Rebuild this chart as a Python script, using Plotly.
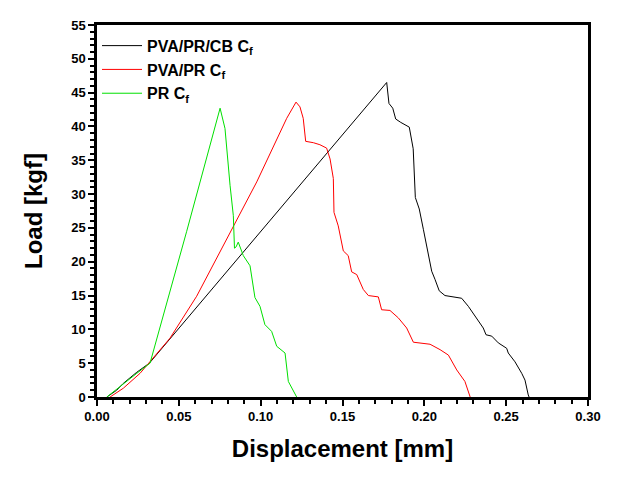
import plotly.graph_objects as go

# PVA/PR/CB Cf (black)
cb_x = [0.006, 0.012, 0.016, 0.024, 0.032, 0.177, 0.1784, 0.1807, 0.1825, 0.1856, 0.1908, 0.1932,
        0.1945, 0.1969, 0.1994, 0.2024, 0.2045, 0.2065, 0.2091, 0.2126, 0.2177, 0.2228, 0.2269,
        0.2320, 0.2360, 0.2377, 0.2412, 0.2452, 0.2503, 0.2513, 0.2554, 0.2595, 0.2615, 0.2635, 0.264]
cb_y = [0, 1.0, 2.0, 3.6, 5.0, 46.5, 43.4, 42.7, 41.1, 40.6, 39.9, 36.7,
        29.5, 27.8, 24.8, 21.4, 18.6, 17.4, 15.7, 15.0, 14.8, 14.6, 13.4,
        11.7, 10.2, 9.2, 9.0, 8.0, 7.2, 6.5, 5.2, 3.5, 2.5, 0.3, 0]

# PVA/PR Cf (red)
pr2_x = [0.008, 0.0161, 0.0263, 0.0446, 0.0609, 0.0813, 0.0976, 0.1159, 0.1216, 0.124, 0.126, 0.1275,
         0.1322, 0.1362, 0.1403, 0.1424, 0.1444, 0.1448, 0.1474, 0.1505, 0.1535, 0.1556, 0.1587,
         0.1627, 0.1658, 0.1719, 0.1739, 0.179, 0.1841, 0.1892, 0.1933, 0.2035, 0.2096, 0.2147,
         0.2198, 0.2248, 0.2275, 0.228]
pr2_y = [0, 1.3, 3.5, 8.7, 14.9, 24.3, 31.8, 41.2, 43.6, 42.9, 41.2, 37.8,
         37.6, 37.3, 36.8, 35.2, 32.3, 27.3, 25.3, 21.6, 20.9, 18.5, 18.1,
         15.9, 15.0, 14.8, 12.9, 12.8, 11.7, 10.2, 8.1, 7.8, 7.0, 6.2,
         4.0, 2.3, 0.3, 0]

# PR Cf (green)
pr_x = [0.006, 0.0161, 0.0243, 0.0324, 0.0548, 0.0752, 0.0782, 0.0813, 0.0833, 0.0840, 0.0850,
        0.0863, 0.0894, 0.0935, 0.0965, 0.0996, 0.1026, 0.1067, 0.1098, 0.1149, 0.1169, 0.122]
pr_y = [0, 2.0, 3.5, 5.0, 24.5, 42.7, 39.7, 31.3, 26.8, 22.0, 22.2,
        22.9, 20.9, 19.4, 14.7, 13.4, 10.7, 9.7, 7.5, 6.5, 2.3, 0]

names = ["PVA/PR/CB C<sub>f</sub>", "PVA/PR C<sub>f</sub>", "PR C<sub>f</sub>"]
colors = ["#000000", "#FF0000", "#00E000"]

fig = go.Figure()
for xs, ys, n, c in [(cb_x, cb_y, names[0], colors[0]),
                     (pr2_x, pr2_y, names[1], colors[1]),
                     (pr_x, pr_y, names[2], colors[2])]:
    fig.add_trace(go.Scatter(x=xs, y=ys, mode="lines", name=n,
                             line=dict(color=c, width=1)))

font_fam = "Liberation Sans, Arial, sans-serif"
axis_common = dict(showline=True, linecolor="black", linewidth=2.5, mirror=True,
                   ticks="outside", ticklen=6, tickwidth=2, tickcolor="black",
                   showgrid=False, zeroline=False, automargin=False,
                   tickfont=dict(family=font_fam, size=13, color="black", weight="bold"))

fig.update_layout(
    width=616, height=492,
    paper_bgcolor="white", plot_bgcolor="white",
    margin=dict(l=89, r=36, t=17, b=103),
    font=dict(family=font_fam, color="black"),
    showlegend=True,
    legend=dict(x=0.0, y=0.99, xanchor="left", yanchor="top",
                bgcolor="rgba(0,0,0,0)", tracegroupgap=0,
                font=dict(family=font_fam, size=16, color="black", weight="bold"),
                itemwidth=40),
    xaxis=dict(range=[0, 0.30], dtick=0.05, tick0=0, tickformat=".2f",
               minor=dict(dtick=0.01, ticks="outside", ticklen=4, tickwidth=2, tickcolor="black"),
               title=dict(text="Displacement [mm]", standoff=17,
                          font=dict(family=font_fam, size=24, color="black", weight="bold")),
               **axis_common),
    yaxis=dict(range=[0, 55], dtick=5, tick0=0,
               minor=dict(dtick=1, ticks="outside", ticklen=4, tickwidth=2, tickcolor="black"),
               title=dict(text="Load [kgf]", standoff=22,
                          font=dict(family=font_fam, size=24, color="black", weight="bold")),
               **axis_common),
)

fig.write_html("out.html")
